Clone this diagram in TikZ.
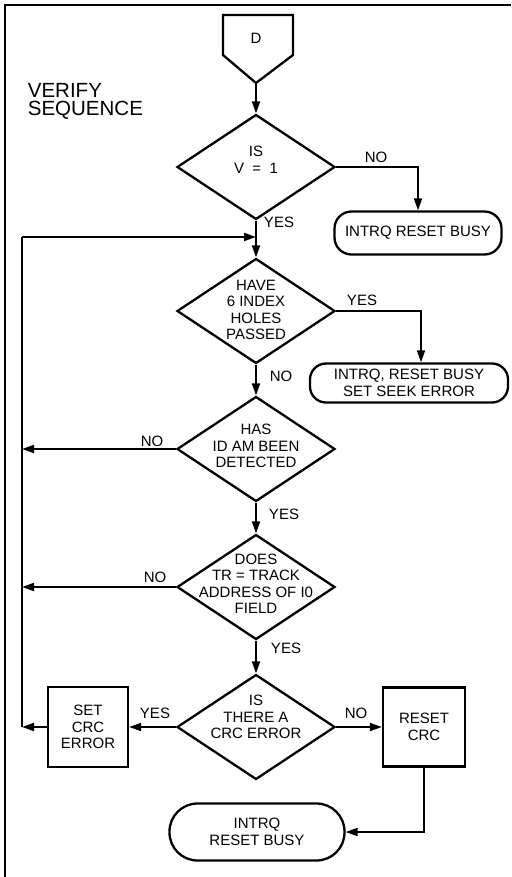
\documentclass[tikz,border=0pt]{standalone}
\usepackage{fontspec}
\setmainfont{Liberation Sans}
\usetikzlibrary{shapes.geometric,arrows.meta}
\begin{document}
\begin{tikzpicture}[x=1pt,y=-1pt,
  line width=1.8pt,
  arr/.style={-{Triangle[length=12pt,width=8pt]}, line width=1.8pt},
  dec/.style={draw, diamond, inner sep=0pt, minimum width=158pt, minimum height=105pt, line width=2.3pt},
  txt/.style={font=\fontsize{15}{16.5}\selectfont, align=center, inner sep=0pt},
  lbl/.style={font=\fontsize{15}{16.5}\selectfont, inner sep=0pt},
  box/.style={draw, rectangle, line width=2.3pt, inner sep=0pt, font=\fontsize{15}{16.5}\selectfont, align=center},
  term/.style={draw, rectangle, line width=2.3pt, inner sep=0pt, font=\fontsize{15}{16.5}\selectfont, align=center},
]
\useasboundingbox (0,0) rectangle (511,877);
% frame
\draw[line width=1.5pt] (5,877) -- (5,5) -- (511,5);

% start
\node[txt] (D) at (256,38) {D};
\draw[line width=2.3pt] (223,15) -- (293,15) -- (293,55) -- (256,83) -- (223,55) -- cycle;
\coordinate (Dtip) at (256,83);

\node[font=\fontsize{20.5}{18.5}\selectfont, align=left, anchor=north west, inner sep=0pt] (title) at (27,82) {VERIFY\\SEQUENCE};

% decisions
\node[dec] (d1) at (256,167) {};
\node[txt] (t1) at (256,160) {IS\\V\ \ =\ \ 1};
\node[dec] (d2) at (256,311) {};
\node[txt] (t2) at (256,310) {HAVE\\6 INDEX\\HOLES\\PASSED};
\node[dec] (d3) at (256,449) {};
\node[txt] (t3) at (256,446) {HAS\\ID AM BEEN\\DETECTED};
\node[dec] (d4) at (256,587) {};
\node[txt] (t4) at (256,584) {DOES\\TR\ =\ TRACK\\ADDRESS OF I0\\FIELD};
\node[dec] (d5) at (256,727) {};
\node[txt] (t5) at (256,717) {IS\\THERE A\\CRC ERROR};

% terminals and boxes
\node[term, rounded corners=17pt, minimum width=167pt, minimum height=43pt] (e1) at (418,233) {INTRQ RESET BUSY};
\node[term, rounded corners=16pt, minimum width=198pt, minimum height=39pt] (e2) at (409,383) {INTRQ, RESET BUSY\\SET SEEK ERROR};
\node[box, minimum width=80pt, minimum height=80pt] (s) at (88,727) {SET\\CRC\\ERROR};
\node[box, minimum width=82pt, minimum height=79pt] (r) at (424,727) {RESET\\CRC};
\node[term, rounded corners=28pt, minimum width=175pt, minimum height=57pt] (e3) at (257,832) {INTRQ\\RESET BUSY};

% loop coordinates
\coordinate (loopTL) at (22,237);
\coordinate (join) at (256,237);

% connectors
\draw[arr] (Dtip) -- (d1.north);
\draw[arr] (d1.east) -| (e1.north);
\draw[arr] (d1.south) -- (d2.north);
\draw[arr] (loopTL) -- (join);
\draw[arr] (d2.east) -| ([xshift=12pt]e2.north);
\draw[arr] (d2.south) -- (d3.north);
\draw[arr] (d3.west) -- (d3.west -| loopTL);
\draw[arr] (d3.south) -- (d4.north);
\draw[arr] (d4.west) -- (d4.west -| loopTL);
\draw[arr] (d4.south) -- (d5.north);
\draw[arr] (d5.west) -- (s.east);
\draw[arr] (d5.east) -- (r.west);
\draw[arr] (s.west) -- (s.west -| loopTL);
\draw (s.west -| loopTL) -- (loopTL);
\draw[arr] (r.south) |- (e3.east);

% branch labels
\node[lbl] (l1) at (376,157) {NO};
\node[lbl] (l2) at (279,222) {YES};
\node[lbl] (l3) at (362,300) {YES};
\node[lbl] (l4) at (281,376) {NO};
\node[lbl] (l5) at (152,441) {NO};
\node[lbl] (l6) at (284,514) {YES};
\node[lbl] (l7) at (155,577) {NO};
\node[lbl] (l8) at (286,648) {YES};
\node[lbl] (l9) at (155,713) {YES};
\node[lbl] (l10) at (356,713) {NO};
\end{tikzpicture}
\end{document}
